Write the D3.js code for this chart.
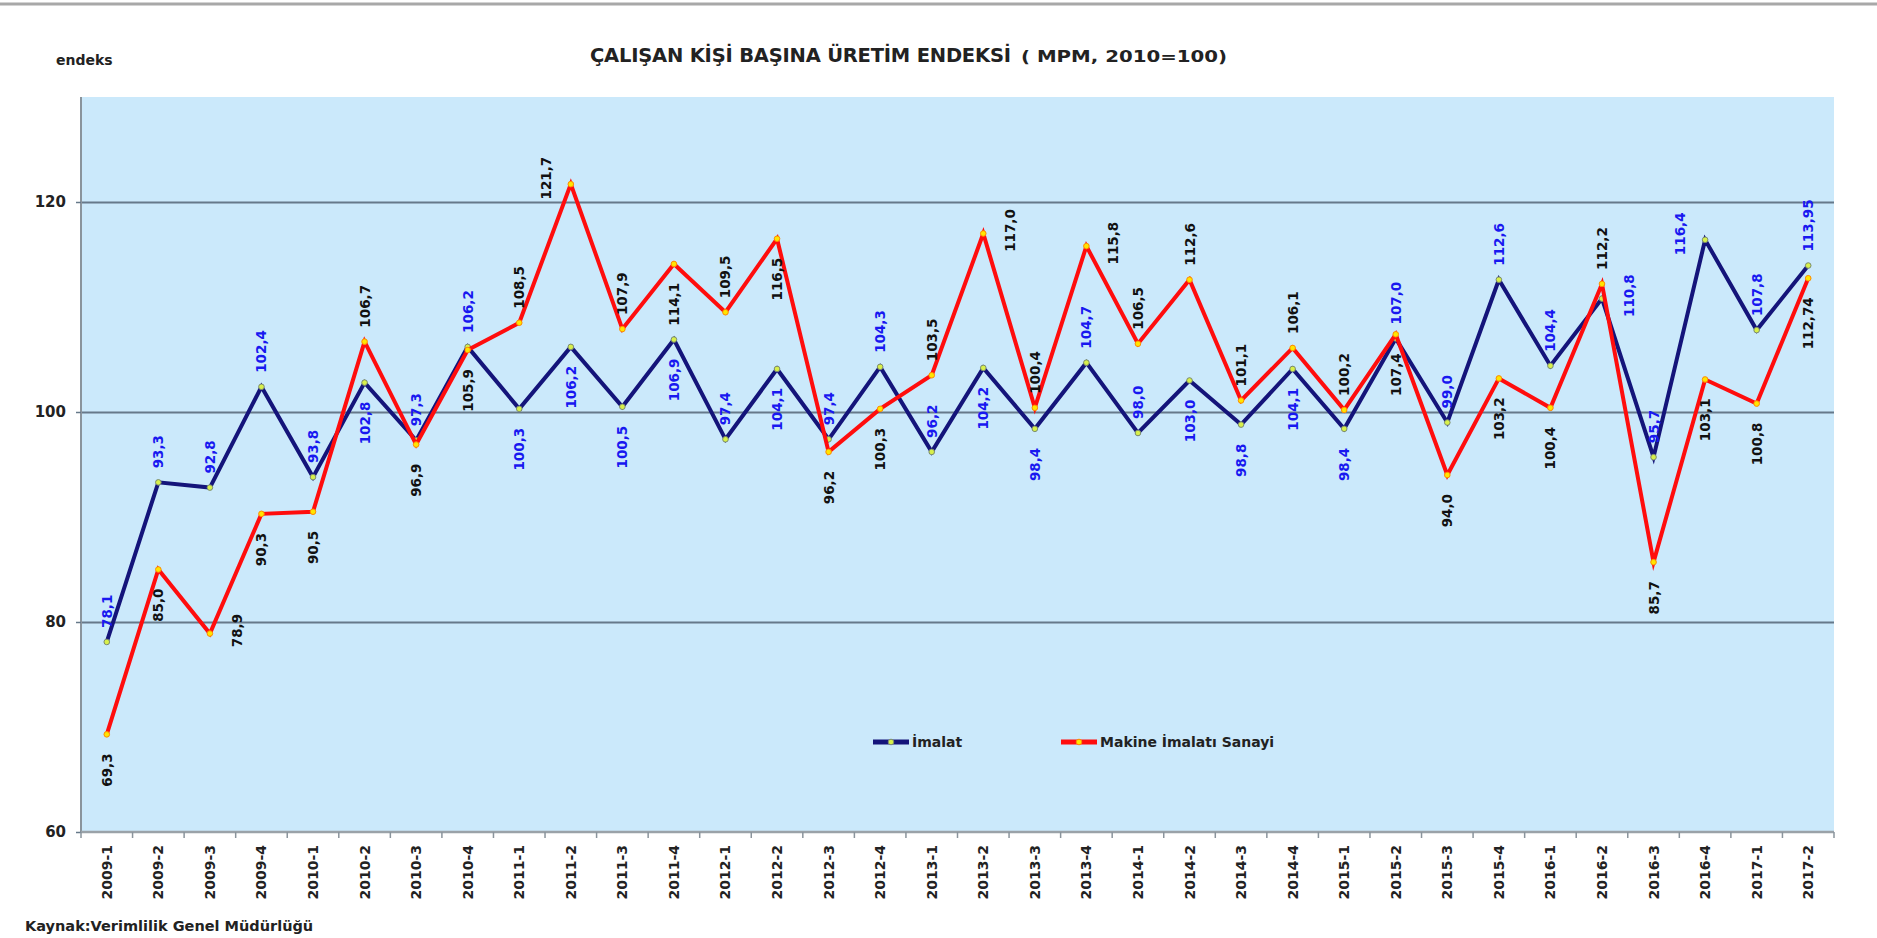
<!DOCTYPE html>
<html>
<head>
<meta charset="utf-8">
<script src="https://cdn.jsdelivr.net/npm/d3@7"></script>
<style>
  html, body { margin: 0; padding: 0; background: #ffffff; }
  svg { display: block; font-family: "DejaVu Sans", Verdana, sans-serif; font-weight: bold; }
</style>
</head>
<body>
<svg id="chart" width="1877" height="938"></svg>
<script>
// ---- data ----
const categories = [
  "2009-1","2009-2","2009-3","2009-4",
  "2010-1","2010-2","2010-3","2010-4",
  "2011-1","2011-2","2011-3","2011-4",
  "2012-1","2012-2","2012-3","2012-4",
  "2013-1","2013-2","2013-3","2013-4",
  "2014-1","2014-2","2014-3","2014-4",
  "2015-1","2015-2","2015-3","2015-4",
  "2016-1","2016-2","2016-3","2016-4",
  "2017-1","2017-2"
];
const imalat = [
  78.1, 93.3, 92.8, 102.4,
  93.8, 102.8, 97.3, 106.2,
  100.3, 106.2, 100.5, 106.9,
  97.4, 104.1, 97.4, 104.3,
  96.2, 104.2, 98.4, 104.7,
  98.0, 103.0, 98.8, 104.1,
  98.4, 107.0, 99.0, 112.6,
  104.4, 110.8, 95.7, 116.4,
  107.8, 113.95
];
const makine = [
  69.3, 85.0, 78.9, 90.3,
  90.5, 106.7, 96.9, 105.9,
  108.5, 121.7, 107.9, 114.1,
  109.5, 116.5, 96.2, 100.3,
  103.5, 117.0, 100.4, 115.8,
  106.5, 112.6, 101.1, 106.1,
  100.2, 107.4, 94.0, 103.2,
  100.4, 112.2, 85.7, 103.1,
  100.8, 112.74
];
// label placement: a = above, b = below, r = right, l = left
const imalatLabelPos = [
  "a","a","a","a", "a","b","a","a", "b","b","b","b", "a","b","a","a",
  "a","b","b","a", "a","b","b","b", "b","a","a","a", "a","r","a","l",
  "a","a"
];
const makineLabelPos = [
  "b","b","r","b", "b","a","b","b", "a","l","a","b", "a","b","b","b",
  "a","r","a","r", "a","a","a","a", "a","b","b","b", "b","a","b","b",
  "b","b"
];
const yTicks = [60, 80, 100, 120];
const yGrid = [80, 100, 120];
const seriesNames = ["İmalat", "Makine İmalatı Sanayi"];
const titleMain = "ÇALIŞAN KİŞİ BAŞINA ÜRETİM ENDEKSİ";
const titleSub = "( MPM, 2010=100)";
const yAxisTitle = "endeks";
const sourceText = "Kaynak:Verimlilik Genel Müdürlüğü";

// ---- layout ----
const svg = d3.select("#chart");
const plot = { left: 81, right: 1834, top: 97, bottom: 832 };
const x = d3.scaleBand().domain(categories).range([plot.left, plot.right]).padding(0);
const y = d3.scaleLinear().domain([60, 130]).range([plot.bottom, plot.top]);
const cx = c => x(c) + x.bandwidth() / 2;

const fmt = v => (Math.abs(v * 10 - Math.round(v * 10)) < 1e-6 ? v.toFixed(1) : v.toFixed(2)).replace(".", ",");

// top gray rule
svg.append("line").attr("x1", 0).attr("x2", 1877).attr("y1", 4).attr("y2", 4)
  .attr("stroke", "#a8a8a8").attr("stroke-width", 3);

// plot background
svg.append("rect").attr("x", plot.left).attr("y", plot.top)
  .attr("width", plot.right - plot.left).attr("height", plot.bottom - plot.top)
  .attr("fill", "#cbe9fb");

// gridlines
const grid = svg.append("g").attr("transform", `translate(${plot.left},0)`)
  .call(d3.axisLeft(y).tickValues(yGrid).tickSize(-(plot.right - plot.left)).tickFormat(""));
grid.select(".domain").remove();
grid.selectAll(".tick line").attr("stroke", "#66798a").attr("stroke-width", 1.8);

// y axis
const yAxis = svg.append("g").attr("transform", `translate(${plot.left},0)`)
  .call(d3.axisLeft(y).tickValues(yTicks).tickSize(5).tickPadding(10).tickFormat(d3.format("d")));
yAxis.select(".domain").attr("stroke", "#8a949c").attr("stroke-width", 2)
  .attr("d", `M0,${plot.top}V${plot.bottom}`);
yAxis.selectAll(".tick line").attr("stroke", "#66798a").attr("stroke-width", 1.5);
yAxis.selectAll(".tick text").attr("font-size", 15).attr("font-weight", "bold")
  .attr("fill", "#222").attr("font-family", "DejaVu Sans, Verdana, sans-serif");

// x axis
const xAxis = svg.append("g").attr("transform", `translate(0,${plot.bottom})`)
  .call(d3.axisBottom(x).tickSize(0).tickPadding(0));
xAxis.select(".domain").attr("stroke", "#9aa2a8").attr("stroke-width", 2.5)
  .attr("d", `M${plot.left},0H${plot.right}`);
xAxis.selectAll(".tick text")
  .attr("font-size", 14).attr("font-weight", "bold").attr("fill", "#222")
  .attr("font-family", "DejaVu Sans, Verdana, sans-serif")
  .attr("text-anchor", "end").attr("dominant-baseline", "central")
  .attr("transform", "translate(0,13) rotate(-90)").attr("x", 0).attr("y", 0).attr("dy", null);
// boundary tick marks
xAxis.selectAll("line.bt").data(categories.concat(["__end"])).enter().append("line")
  .attr("class", "bt")
  .attr("x1", d => d === "__end" ? plot.right : x(d))
  .attr("x2", d => d === "__end" ? plot.right : x(d))
  .attr("y1", 0).attr("y2", 6).attr("stroke", "#8a949c").attr("stroke-width", 1.5);

// lines
const line = d3.line().x((d, i) => cx(categories[i])).y(d => y(d));
const series = [
  { name: seriesNames[0], values: imalat, pos: imalatLabelPos, color: "#14147a", mFill: "#d8f04a", mStroke: "#7a8a70", lblColor: "#1818f0" },
  { name: seriesNames[1], values: makine, pos: makineLabelPos, color: "#ff0d0d", mFill: "#ffe600", mStroke: "#ff8a00", lblColor: "#111111" }
];

series.forEach(s => {
  const g = svg.append("g");
  g.append("path").datum(s.values).attr("d", line)
    .attr("fill", "none").attr("stroke", s.color).attr("stroke-width", 4)
    .attr("stroke-linejoin", "miter").attr("stroke-miterlimit", 10);
  g.selectAll("circle").data(s.values).enter().append("circle")
    .attr("cx", (d, i) => cx(categories[i])).attr("cy", d => y(d)).attr("r", 2.8)
    .attr("fill", s.mFill).attr("stroke", s.mStroke).attr("stroke-width", 1);
});

// data labels
series.forEach(s => {
  const g = svg.append("g");
  s.values.forEach((v, i) => {
    const px = cx(categories[i]), py = y(v);
    const p = s.pos[i];
    let tx = px, ty = py, anchor = "start";
    if (p === "a") { ty = py - 14; anchor = "start"; }
    else if (p === "b") { ty = py + 19; anchor = "end"; }
    else if (p === "r") { tx = px + 27; ty = py - 3; anchor = "middle"; }
    else if (p === "l") { tx = px - 25; ty = py - 6; anchor = "middle"; }
    g.append("text")
      .attr("transform", `translate(${tx},${ty}) rotate(-90)`)
      .attr("text-anchor", anchor).attr("dominant-baseline", "central")
      .attr("font-size", 13.5).attr("fill", s.lblColor)
      .text(fmt(v));
  });
});

// legend
const legend = [
  { name: seriesNames[0], x: 873, s: series[0] },
  { name: seriesNames[1], x: 1061, s: series[1] }
];
legend.forEach(l => {
  const ly = 742;
  svg.append("line").attr("x1", l.x).attr("x2", l.x + 36).attr("y1", ly).attr("y2", ly)
    .attr("stroke", l.s.color).attr("stroke-width", 5);
  svg.append("circle").attr("cx", l.x + 18).attr("cy", ly).attr("r", 2.8)
    .attr("fill", l.s.mFill).attr("stroke", l.s.mStroke).attr("stroke-width", 1);
  svg.append("text").attr("x", l.x + 39).attr("y", ly).attr("dominant-baseline", "central")
    .attr("font-size", 14).attr("fill", "#222").text(l.name);
});

// titles
svg.append("text").attr("x", 590).attr("y", 62).attr("font-size", 19.5).attr("fill", "#222")
  .attr("textLength", 421).text(titleMain);
svg.append("text").attr("x", 1021).attr("y", 62).attr("font-size", 15).attr("fill", "#222")
  .attr("textLength", 206).attr("lengthAdjust", "spacingAndGlyphs").text(titleSub);
svg.append("text").attr("x", 56).attr("y", 65).attr("font-size", 14).attr("fill", "#222")
  .text(yAxisTitle);
svg.append("text").attr("x", 25).attr("y", 931).attr("font-size", 14.5).attr("fill", "#222")
  .text(sourceText);
</script>
</body>
</html>
